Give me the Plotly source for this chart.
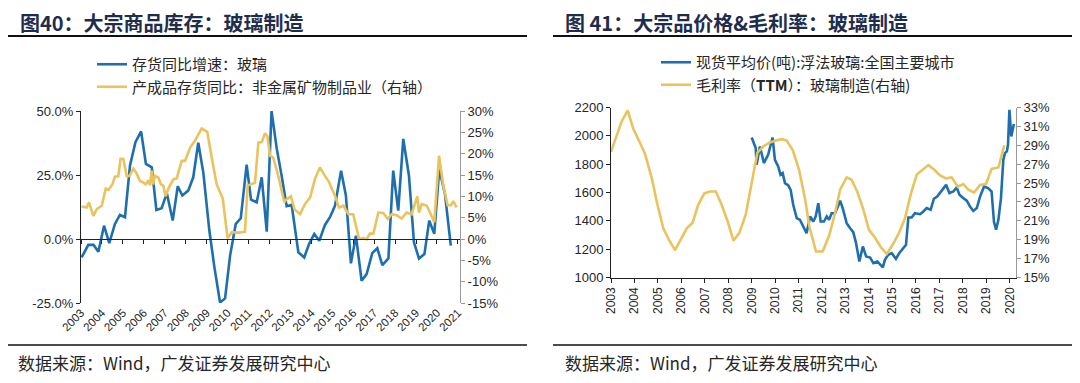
import plotly.graph_objects as go

# ---------------- Data: left chart (图40) ----------------
inv_x = [2003.03, 2003.35, 2003.6, 2003.83, 2004.1, 2004.35, 2004.62, 2004.86, 2005.1, 2005.34, 2005.6, 2005.87,
         2006.1, 2006.38, 2006.6, 2006.85, 2007.1, 2007.38, 2007.62, 2007.84, 2008.12, 2008.36, 2008.6, 2008.84,
         2009.13, 2009.37, 2009.64, 2009.88, 2010.12, 2010.39, 2010.63, 2010.91, 2011.12, 2011.39, 2011.63, 2011.87,
         2012.1, 2012.35, 2012.58, 2012.82, 2013.06, 2013.38, 2013.66, 2013.89, 2014.14, 2014.38, 2014.65, 2014.89,
         2015.13, 2015.42, 2015.65, 2015.89, 2016.13, 2016.4, 2016.64, 2016.91, 2017.15, 2017.39, 2017.68, 2017.91,
         2018.15, 2018.39, 2018.66, 2018.9, 2019.14, 2019.4, 2019.63, 2019.87, 2020.11, 2020.38, 2020.66]
inv_v = [-7.2, -2.3, -2.3, -5.0, 5.2, -1.6, 5.9, 9.4, 8.5, 28.7, 37.8, 42.0,
         29.3, 28.0, 11.3, 12.0, 17.9, 7.2, 20.6, 17.0, 18.9, 24.1, 37.6, 26.0,
         3.3, -11.0, -24.8, -23.2, -6.5, 5.9, 8.1, 29.0, 15.4, 14.3, 24.1, 2.9,
         50.0, 35.2, 24.8, 12.8, 13.3, -5.2, -7.2, -2.0, 2.0, -0.7, 5.5, 8.5,
         13.0, 26.7, 17.0, -9.5, 1.3, -16.3, -13.7, -5.5, -3.6, -10.2, -7.6, 26.7,
         11.1, 39.1, 24.8, -1.3, -7.6, -5.9, 7.2, 2.0, 27.4, 17.6, -2.6]

fg_x = [2003.03, 2003.27, 2003.38, 2003.59, 2003.75, 2003.99, 2004.18, 2004.31, 2004.5, 2004.62, 2004.78, 2004.89,
        2005.02, 2005.18, 2005.31, 2005.5, 2005.63, 2005.82, 2005.98, 2006.1, 2006.22, 2006.3, 2006.37, 2006.45,
        2006.53, 2006.69, 2006.82, 2006.93, 2007.04, 2007.2, 2007.41, 2007.57, 2007.81, 2007.97, 2008.21, 2008.44,
        2008.76, 2009.03, 2009.24, 2009.48, 2009.77, 2010.0, 2010.2, 2010.51, 2010.83, 2010.96, 2011.12, 2011.31,
        2011.47, 2011.63, 2011.79, 2011.9, 2012.03, 2012.18, 2012.42, 2012.71, 2012.82, 2013.03, 2013.19, 2013.46,
        2013.7, 2013.94, 2014.17, 2014.41, 2014.65, 2014.84, 2015.13, 2015.32, 2015.53, 2015.77, 2016.0, 2016.16,
        2016.28, 2016.48, 2016.64, 2016.8, 2016.96, 2017.2, 2017.44, 2017.65, 2017.84, 2018.07, 2018.31, 2018.55,
        2018.79, 2019.06, 2019.14, 2019.27, 2019.51, 2019.67, 2019.87, 2020.1, 2020.3, 2020.51, 2020.67, 2020.78,
        2020.94]
fg_v = [7.6, 7.4, 8.6, 5.4, 7.0, 7.8, 11.8, 11.5, 12.8, 14.6, 14.7, 18.8,
        18.8, 14.8, 14.8, 16.5, 15.6, 13.6, 13.2, 12.8, 13.8, 12.6, 16.0, 12.8,
        14.8, 14.4, 12.8, 12.5, 10.0, 12.1, 14.0, 14.2, 18.3, 18.3, 21.4, 23.0,
        25.9, 25.1, 19.1, 12.8, 9.5, 0.2, 1.6, 1.5, 1.7, 12.6, 12.8, 13.2,
        22.6, 22.7, 24.8, 24.1, 19.5, 19.1, 14.8, 8.6, 9.3, 10.0, 7.0, 5.8,
        8.2, 9.7, 14.0, 16.8, 14.8, 13.4, 10.1, 7.4, 7.8, 5.8, 5.8, 2.7,
        0.0, 0.2, -0.1, 1.3, 1.2, 6.2, 6.1, 4.7, 5.8, 5.6, 4.8, 6.2,
        5.8, 10.0, 6.2, 8.2, 7.8, 6.2, 3.9, 19.5, 12.5, 7.9, 7.9, 8.9,
        7.4]

# ---------------- Data: right chart (图41) ----------------
price_x = [2009.0, 2009.08, 2009.17, 2009.21, 2009.35, 2009.52, 2009.7, 2009.89, 2009.99, 2010.13, 2010.23, 2010.32,
           2010.42, 2010.56, 2010.66, 2010.77, 2010.92, 2011.06, 2011.2, 2011.34, 2011.49, 2011.63, 2011.73, 2011.84,
           2011.94, 2012.08, 2012.2, 2012.3, 2012.41, 2012.55, 2012.65, 2012.77, 2012.88, 2013.05, 2013.19, 2013.33,
           2013.45, 2013.59, 2013.74, 2013.88, 2014.05, 2014.19, 2014.36, 2014.47, 2014.59, 2014.68, 2014.82, 2014.97,
           2015.15, 2015.29, 2015.44, 2015.58, 2015.68, 2015.82, 2015.96, 2016.18, 2016.32, 2016.46, 2016.63, 2016.77,
           2016.91, 2017.03, 2017.17, 2017.29, 2017.43, 2017.6, 2017.74, 2017.86, 2018.03, 2018.17, 2018.31, 2018.45,
           2018.6, 2018.74, 2018.91, 2019.08, 2019.23, 2019.33, 2019.42, 2019.52, 2019.63, 2019.73, 2019.8, 2019.88,
           2019.93, 2019.99, 2020.07, 2020.13, 2020.18]
price_v = [1988, 1950, 1914, 1796, 1925, 1808, 1866, 1988, 1831, 1784, 1725, 1737,
           1666, 1650, 1619, 1513, 1419, 1407, 1360, 1313, 1431, 1395, 1431, 1525,
           1395, 1395, 1431, 1407, 1454, 1454, 1490, 1542, 1490, 1384, 1349, 1320,
           1243, 1113, 1219, 1148, 1141, 1102, 1113, 1095, 1071, 1125, 1160, 1172,
           1132, 1172, 1203, 1231, 1424, 1424, 1454, 1447, 1466, 1490, 1478, 1556,
           1572, 1596, 1626, 1654, 1596, 1607, 1635, 1584, 1560, 1542, 1501, 1470,
           1490, 1572, 1642, 1631, 1607, 1395, 1337, 1407, 1560, 1831, 1878, 1890,
           1937, 2184, 1996, 2055, 2083]

gm_x = [2003.0, 2003.45, 2003.71, 2003.95, 2004.21, 2004.45, 2004.74, 2004.95, 2005.23, 2005.47, 2005.73, 2005.98,
        2006.23, 2006.48, 2006.72, 2006.98, 2007.22, 2007.47, 2007.72, 2007.98, 2008.22, 2008.47, 2008.74, 2009.0,
        2009.24, 2009.5, 2009.78, 2010.02, 2010.28, 2010.49, 2010.75, 2011.02, 2011.27, 2011.46, 2011.74, 2012.03,
        2012.31, 2012.55, 2012.77, 2013.05, 2013.26, 2013.5, 2013.76, 2014.0, 2014.26, 2014.51, 2014.76, 2015.04,
        2015.28, 2015.54, 2015.78, 2016.04, 2016.29, 2016.53, 2016.79, 2017.03, 2017.29, 2017.53, 2017.79, 2018.02,
        2018.24, 2018.48, 2018.74, 2018.99, 2019.23, 2019.52, 2019.77]
gm_v = [28.3, 31.5, 32.7, 30.75, 29.4, 28.1, 25.5, 23.05, 20.2, 19.0, 17.9, 19.1,
        20.2, 20.8, 22.7, 23.9, 24.1, 24.1, 22.7, 20.9, 18.9, 19.7, 21.6, 25.0,
        28.2, 28.9, 29.3, 29.5, 29.65, 29.5, 28.5, 26.4, 23.4, 20.4, 17.75, 17.75,
        19.5, 21.8, 24.3, 25.6, 25.35, 24.1, 22.2, 20.05, 19.2, 18.2, 17.5, 18.6,
        19.7, 21.3, 23.8, 25.9, 26.4, 26.9, 26.4, 25.8, 25.5, 25.6, 24.6, 24.9,
        24.3, 24.0, 24.8, 24.9, 26.5, 26.65, 29.0]

# ---------------- Tick labels ----------------
years_left = list(range(2003, 2022))
years_right = list(range(2003, 2021))
l_y_vals = [-25, 0, 25, 50]
l_y_text = ["-25.0%", "0.0%", "25.0%", "50.0%"]
l_y2_vals = [-15, -10, -5, 0, 5, 10, 15, 20, 25, 30]
l_y2_text = ["-15%", "-10%", "-5%", "0%", "5%", "10%", "15%", "20%", "25%", "30%"]
r_y_vals = [1000, 1200, 1400, 1600, 1800, 2000, 2200]
r_y2_vals = [15, 17, 19, 21, 23, 25, 27, 29, 31, 33]
r_y2_text = ["15%", "17%", "19%", "21%", "23%", "25%", "27%", "29%", "31%", "33%"]

BLUE = "#1f6fae"
YELLOW = "#e8c35e"
TXT = "#262626"
CJK = "Noto Sans CJK SC"
NUM = "Liberation Sans"

W, H = 1080, 383
OFF = 8  # page body margin offset of the figure in the browser


def px_x(p):
    return (p - OFF) / W


def px_y(p):
    return 1 - (p - OFF) / H


# plot areas in page pixels
L_x0, L_x1, L_y0, L_y1 = 81, 460, 111, 303
R_x0, R_x1, R_y0, R_y1 = 611, 1016, 107.5, 277.5

l_dom_x = [px_x(L_x0), px_x(L_x1)]
l_dom_y = [px_y(L_y1), px_y(L_y0)]
r_dom_x = [px_x(R_x0), px_x(R_x1)]
r_dom_y = [px_y(R_y1), px_y(R_y0)]

l_xrange = [2003, 2003 + (L_x1 - L_x0) / 20.94]
l_yrange = [-25, 50]
l_y2range = [-15, 30]
r_xrange = [2003, 2003 + (R_x1 - R_x0) / 23.45]
r_yrange = [1000, 2200]
r_y2range = [15, 33]

zero_pos = l_dom_y[0] + (0 - l_yrange[0]) / (l_yrange[1] - l_yrange[0]) * (l_dom_y[1] - l_dom_y[0])

fig = go.Figure()
fig.add_trace(go.Scatter(x=inv_x, y=inv_v, mode="lines", name="存货同比增速：玻璃",
                         line=dict(color=BLUE, width=2.6), xaxis="x", yaxis="y",
                         legend="legend", legendgroup="a"))
fig.add_trace(go.Scatter(x=fg_x, y=fg_v, mode="lines", name="产成品存货同比：非金属矿物制品业（右轴）",
                         line=dict(color=YELLOW, width=2.6), xaxis="x2", yaxis="y2",
                         legend="legend", legendgroup="b"))
fig.add_trace(go.Scatter(x=price_x, y=price_v, mode="lines", name="现货平均价(吨):浮法玻璃:全国主要城市",
                         line=dict(color=BLUE, width=2.6), xaxis="x3", yaxis="y3",
                         legend="legend2", legendgroup="c"))
fig.add_trace(go.Scatter(x=gm_x, y=gm_v, mode="lines", name="毛利率（<b>TTM</b>）：玻璃制造(右轴)",
                         line=dict(color=YELLOW, width=2.6), xaxis="x3", yaxis="y4",
                         legend="legend2", legendgroup="d"))

tickfont = dict(family=NUM, size=13, color=TXT)

fig.update_layout(
    width=W, height=H,
    margin=dict(l=0, r=0, t=0, b=0, autoexpand=False),
    paper_bgcolor="white", plot_bgcolor="rgba(0,0,0,0)",
    showlegend=True,
    xaxis=dict(domain=l_dom_x, range=l_xrange, anchor="y", tickvals=years_left, automargin=False,
               ticktext=[str(y) for y in years_left], tickangle=-45, showline=False, ticks="",
               showgrid=False, zeroline=False, tickfont=dict(family=NUM, size=11.5, color=TXT)),
    xaxis2=dict(domain=l_dom_x, range=l_xrange, matches="x", overlaying="x", anchor="free", automargin=False,
                position=zero_pos, tickvals=years_left, showticklabels=False, showline=True,
                linecolor="#222", linewidth=1, ticks="outside", ticklen=4, tickcolor="#222",
                showgrid=False, zeroline=False),
    yaxis=dict(domain=l_dom_y, range=l_yrange, anchor="x", tickvals=l_y_vals, ticktext=l_y_text,
               automargin=False,
               showline=True, linecolor="#222", linewidth=1, ticks="outside", ticklen=4, tickcolor="#222",
               showgrid=False, zeroline=False, tickfont=tickfont),
    yaxis2=dict(domain=l_dom_y, range=l_y2range, overlaying="y", side="right", anchor="free",
                position=l_dom_x[1], tickvals=l_y2_vals, ticktext=l_y2_text, automargin=False,
                showline=True, linecolor="#999", linewidth=1, ticks="outside", ticklen=4, tickcolor="#999",
                showgrid=False, zeroline=False, tickfont=tickfont),
    xaxis3=dict(domain=r_dom_x, range=r_xrange, anchor="y3", tickvals=years_right, automargin=False,
                ticktext=[str(y) for y in years_right], tickangle=-90, showline=True, linecolor="#222",
                linewidth=1, ticks="outside", ticklen=4, tickcolor="#222", showgrid=False, zeroline=False,
                tickfont=dict(family=NUM, size=12, color=TXT)),
    yaxis3=dict(domain=r_dom_y, range=r_yrange, anchor="x3", tickvals=r_y_vals, automargin=False,
                showline=True, linecolor="#222", linewidth=1, ticks="outside", ticklen=4, tickcolor="#222",
                showgrid=False, zeroline=False, tickfont=tickfont),
    yaxis4=dict(domain=r_dom_y, range=r_y2range, overlaying="y3", side="right", anchor="x3",
                tickvals=r_y2_vals, ticktext=r_y2_text, automargin=False,
                showline=True, linecolor="#999", linewidth=1, ticks="outside", ticklen=4, tickcolor="#999",
                showgrid=False, zeroline=False, tickfont=tickfont),
    legend=dict(x=px_x(92), y=px_y(48), xanchor="left", yanchor="top", bgcolor="rgba(0,0,0,0)",
                font=dict(family=CJK, size=15, color=TXT), tracegroupgap=0, itemwidth=30),
    legend2=dict(x=px_x(656), y=px_y(46), xanchor="left", yanchor="top", bgcolor="rgba(0,0,0,0)",
                 font=dict(family=CJK, size=15, color=TXT), tracegroupgap=0, itemwidth=30),
)

# Titles
fig.add_annotation(text="<b>图40：大宗商品库存：玻璃制造</b>", xref="paper", yref="paper",
                   x=px_x(18), y=px_y(23), xanchor="left", yanchor="middle", showarrow=False,
                   font=dict(family=CJK, size=20, color="#1f2d4d"))
fig.add_annotation(text="<b>图 41：大宗品价格&amp;毛利率：玻璃制造</b>", xref="paper", yref="paper",
                   x=px_x(563), y=px_y(23), xanchor="left", yanchor="middle", showarrow=False,
                   font=dict(family=CJK, size=20, color="#1f2d4d"))
# Sources
for sx in (16, 563):
    fig.add_annotation(text="数据来源：Wind，广发证券发展研究中心", xref="paper", yref="paper",
                       x=px_x(sx), y=px_y(362), xanchor="left", yanchor="middle", showarrow=False,
                       font=dict(family=CJK, size=17, color=TXT))

# Header / footer rules
for (a, b) in ((6, 527), (553, 1080)):
    fig.add_shape(type="line", xref="paper", yref="paper", x0=px_x(a), x1=px_x(b),
                  y0=px_y(36), y1=px_y(36), line=dict(color="#111", width=2))
    fig.add_shape(type="line", xref="paper", yref="paper", x0=px_x(a), x1=px_x(b),
                  y0=px_y(345), y1=px_y(345), line=dict(color="#111", width=1.5))

fig.write_html("out.html")
